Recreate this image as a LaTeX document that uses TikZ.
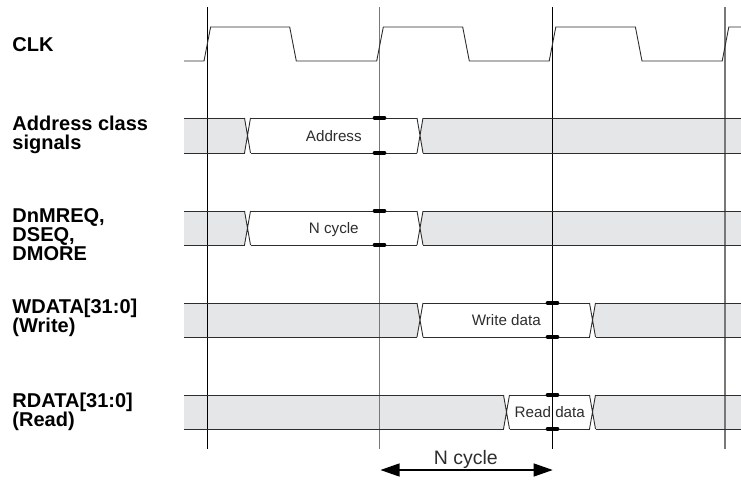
\documentclass[tikz,border=0pt]{standalone}
\usepackage{fontspec}
\setmainfont{Liberation Sans}
\usetikzlibrary{arrows.meta}
\definecolor{busgrey}{RGB}{229,230,231}
\definecolor{wire}{RGB}{45,45,45}
\definecolor{gridgrey}{RGB}{120,120,120}
\begin{document}
\begin{tikzpicture}[x=1pt,y=-1pt,
  sig/.style={draw=wire,line width=0.9pt,line join=miter},
  gridblack/.style={draw=black,line width=0.9pt},
  gridlight/.style={draw=gridgrey,line width=1.1pt},
  holdmark/.style={draw=black,line width=3.6pt,line cap=round},
  siglabel/.style={anchor=base west,inner sep=0pt,align=left,font=\fontsize{20}{19}\selectfont\bfseries},
  buslabel/.style={anchor=base,inner sep=0pt,font=\fontsize{15.2}{18}\selectfont,text=wire},
  spanlabel/.style={anchor=base,inner sep=0pt,font=\fontsize{19.5}{22}\selectfont,text=wire}]
\useasboundingbox (0,0) rectangle (741,481);
% grey bus fills
\foreach \T/\B/\a/\b in {118/153/247.5/420, 211/245/247.5/420, 303/337/420/592.5, 395/429/506.5/592.5}{
  \pgfmathsetmacro\M{(\T+\B)/2}
  \fill[busgrey] (184,\T) -- (\a-3,\T) -- (\a,\M) -- (\a-3,\B) -- (184,\B) -- cycle;
  \fill[busgrey] (741,\T) -- (\b+3,\T) -- (\b,\M) -- (\b+3,\B) -- (741,\B) -- cycle;
}
% vertical reference lines
\draw[gridblack] (207,7) -- (207,449);
\draw[gridlight] (379.5,7) -- (379.5,449);
\draw[gridblack] (552.5,7) -- (552.5,449);
\draw[gridlight] (725,7) -- (725,449);
% clock
\draw[sig] (184,61) -- (204,61) -- (210.6,27) -- (289.7,27) -- (296.3,61)
  -- (376.7,61) -- (383.3,27) -- (462.7,27) -- (469.3,61)
  -- (549.2,61) -- (555.8,27) -- (635.4,27) -- (642,61)
  -- (722.2,61) -- (728.8,27) -- (741,27);
% bus outlines
\foreach \T/\B/\a/\b in {118/153/247.5/420, 211/245/247.5/420, 303/337/420/592.5, 395/429/506.5/592.5}{
  \draw[sig] (184,\T) -- (\a-3,\T) (\a+3,\T) -- (\b-3,\T) (\b+3,\T) -- (741,\T);
  \draw[sig] (184,\B) -- (\a-3,\B) (\a+3,\B) -- (\b-3,\B) (\b+3,\B) -- (741,\B);
  \draw[sig] (\a-3,\T) -- (\a+3,\B) (\a+3,\T) -- (\a-3,\B);
  \draw[sig] (\b-3,\T) -- (\b+3,\B) (\b+3,\T) -- (\b-3,\B);
}
% hold markers
\foreach \x/\y in {379.5/118, 379.5/153, 379.5/211, 379.5/245, 552.5/303, 552.5/337, 552.5/395, 552.5/429}{
  \draw[holdmark] (\x-5,\y) -- (\x+5,\y);
}
% signal names (base anchor = baseline of last line)
\node[siglabel] (clk) at (12.3,51.7) {CLK};
\node[siglabel] (addr) at (12.3,150) {Address class\\signals};
\node[siglabel] (mreq) at (12.3,260.3) {DnMREQ,\\DSEQ,\\DMORE};
\node[siglabel] (wdata) at (12.3,332.3) {WDATA[31:0]\\(Write)};
\node[siglabel] (rdata) at (12.3,426.6) {RDATA[31:0]\\(Read)};
% bus values
\node[buslabel] (vaddr) at (333.8,141.2) {Address};
\node[buslabel] (vncyc) at (333.8,233.4) {N cycle};
\node[buslabel] (vwd) at (506.3,325.4) {Write data};
\node[buslabel] (vrd) at (549.8,417.4) {Read data};
% N cycle span
\coordinate (spanl) at (380.5,470);
\coordinate (spanr) at (552.7,470);
\draw[draw=black,line width=1.2pt,{Triangle[length=19pt,width=13pt]}-{Triangle[length=19pt,width=13pt]}] (spanl) -- (spanr);
\node[spanlabel] (span) at (465.8,464) {N cycle};
\end{tikzpicture}
\end{document}
